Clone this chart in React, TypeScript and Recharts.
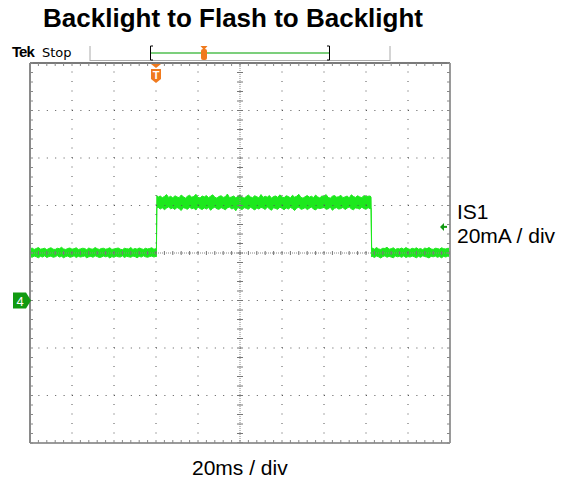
import React from 'react';
import {
  ComposedChart,
  Area,
  Scatter,
  XAxis,
  YAxis,
  ReferenceLine,
  ReferenceDot
} from 'recharts';

const timesBefore = [
  0, 1, 2, 3, 4, 5, 6, 7, 8, 9,
  10, 11, 12, 13, 14, 15, 16, 17, 18, 19,
  20, 21, 22, 23, 24, 25, 26, 27, 28, 29,
  30, 31, 32, 33, 34, 35, 36, 37, 38, 39,
  40, 41, 42, 43, 44, 45, 46, 47, 48, 49,
  50, 51, 52, 53, 54, 55, 56, 57, 58, 59,
  60, 60.2
];
const highBefore = [
  21.7, 22.1, 21.5, 21.9, 22.3, 21.6, 21.8, 22.0, 21.4, 21.9,
  22.2, 21.6, 21.5, 22.0, 21.8, 22.4, 21.7, 21.5, 21.9, 22.1,
  21.6, 21.8, 22.2, 21.5, 21.7, 22.0, 21.9, 21.4, 22.1, 21.7,
  21.6, 22.3, 21.8, 21.5, 21.9, 22.0, 21.6, 21.8, 22.2, 21.5,
  21.7, 21.9, 22.1, 21.6, 21.4, 22.0, 21.8, 21.7, 22.3, 21.5,
  21.9, 21.6, 22.1, 21.8, 21.5, 22.0, 21.7, 21.9, 22.2, 21.6,
  21.8, 21.7
];
const lowBefore = [
  18.5, 18.2, 18.7, 18.4, 18.0, 18.6, 18.3, 18.8, 18.1, 18.5,
  18.7, 18.2, 18.4, 18.9, 18.3, 18.6, 18.0, 18.5, 18.7, 18.2,
  18.4, 18.8, 18.1, 18.6, 18.3, 18.5, 18.7, 18.0, 18.4, 18.6,
  18.2, 18.8, 18.5, 18.1, 18.3, 18.7, 18.4, 18.6, 17.9, 18.5,
  18.2, 18.7, 18.4, 18.3, 18.8, 18.1, 18.6, 18.4, 18.2, 18.7,
  18.5, 18.0, 18.6, 18.3, 18.8, 18.4, 18.2, 18.5, 18.7, 18.3,
  18.6, 18.4
];

const timesFlash = [
  60.4, 61, 62, 63, 64, 65, 66, 67, 68, 69,
  70, 71, 72, 73, 74, 75, 76, 77, 78, 79,
  80, 81, 82, 83, 84, 85, 86, 87, 88, 89,
  90, 91, 92, 93, 94, 95, 96, 97, 98, 99,
  100, 101, 102, 103, 104, 105, 106, 107, 108, 109,
  110, 111, 112, 113, 114, 115, 116, 117, 118, 119,
  120, 121, 122, 123, 124, 125, 126, 127, 128, 129,
  130, 131, 132, 133, 134, 135, 136, 137, 138, 139,
  140, 141, 142, 143, 144, 145, 146, 147, 148, 149,
  150, 151, 152, 153, 154, 155, 156, 157, 158, 159,
  160, 161, 162, 162.4
];
const highFlash = [
  44.2, 43.5, 44.0, 43.3, 43.8, 44.6, 43.4, 43.9, 43.2, 44.1,
  43.6, 43.3, 44.4, 43.7, 43.1, 43.9, 44.3, 43.5, 43.8, 44.7,
  43.4, 43.2, 44.0, 43.6, 44.2, 43.3, 43.9, 44.5, 43.5, 43.1,
  43.8, 44.1, 43.4, 43.7, 44.8, 43.3, 43.6, 44.0, 43.2, 43.9,
  44.3, 43.5, 43.1, 43.8, 44.4, 43.6, 43.3, 44.1, 43.7, 43.2,
  44.6, 43.4, 43.9, 43.5, 44.2, 43.1, 43.8, 44.0, 43.4, 44.5,
  43.6, 43.3, 44.1, 43.8, 43.2, 44.3, 43.5, 43.9, 44.7, 43.4,
  43.1, 43.7, 44.2, 43.5, 43.9, 43.3, 44.4, 43.6, 43.2, 44.0,
  43.8, 44.6, 43.4, 43.1, 43.9, 44.2, 43.5, 43.7, 44.3, 43.3,
  43.6, 44.0, 43.2, 44.5, 43.8, 43.4, 44.1, 43.6, 43.3, 44.2,
  43.7, 43.9, 44.0, 43.5
];
const lowFlash = [
  38.8, 39.3, 38.5, 39.1, 38.2, 38.9, 39.4, 38.6, 39.0, 38.3,
  39.2, 38.7, 37.9, 39.1, 38.8, 38.4, 39.3, 38.6, 38.9, 38.1,
  39.4, 38.7, 38.3, 39.0, 38.5, 39.2, 38.0, 38.8, 39.3, 38.6,
  38.4, 39.1, 38.7, 38.2, 39.0, 39.4, 38.5, 38.9, 37.8, 39.2,
  38.6, 38.3, 39.1, 38.8, 38.4, 39.3, 38.7, 38.1, 39.0, 38.5,
  39.2, 38.9, 38.3, 39.4, 38.6, 38.0, 39.1, 38.7, 38.4, 39.3,
  38.8, 38.2, 39.0, 38.5, 39.2, 38.7, 37.9, 38.9, 39.3, 38.4,
  38.6, 39.1, 38.3, 38.8, 39.4, 38.5, 38.1, 39.0, 38.7, 38.9,
  39.2, 38.4, 38.6, 39.3, 38.0, 38.8, 39.1, 38.5, 38.7, 39.2,
  38.3, 38.9, 39.4, 38.6, 38.2, 39.0, 38.8, 38.5, 39.3, 38.7,
  38.4, 39.1, 38.6, 38.9
];

const timesAfter = [
  162.7, 163, 164, 165, 166, 167, 168, 169, 170, 171,
  172, 173, 174, 175, 176, 177, 178, 179, 180, 181,
  182, 183, 184, 185, 186, 187, 188, 189, 190, 191,
  192, 193, 194, 195, 196, 197, 198, 199, 200
];
const highAfter = [
  21.8, 22.1, 21.6, 22.3, 21.7, 21.5, 22.0, 21.9, 22.4, 21.6,
  21.8, 22.2, 21.5, 21.9, 21.7, 22.1, 21.6, 22.3, 21.8, 21.5,
  22.0, 21.7, 22.2, 21.6, 21.9, 21.4, 22.1, 21.8, 22.3, 21.7,
  21.5, 22.0, 21.9, 21.6, 22.2, 21.8, 21.7, 22.0, 21.9
];
const lowAfter = [
  18.3, 18.6, 18.1, 18.7, 18.4, 17.9, 18.5, 18.8, 18.2, 18.6,
  18.3, 18.0, 18.7, 18.4, 18.6, 18.2, 18.8, 18.1, 18.5, 18.3,
  18.7, 18.4, 18.0, 18.6, 18.2, 18.8, 18.5, 18.3, 17.9, 18.6,
  18.4, 18.7, 18.2, 18.5, 18.0, 18.6, 18.3, 18.7, 18.4
];

// graticule: 20 ms/div, 20 mA/div, ground marker one division below centre
const gridTimes = [20, 40, 60, 80, 120, 140, 160, 180];
const gridLevels = [-40, -20, 0, 40, 60, 80];
const centerTime = 100;
const centerLevel = 20;
const triggerTime = 60;
const triggerLevel = 31;
const minorTimes = Array.from({ length: 51 }, (_, i) => i * 4);
const minorLevels = Array.from({ length: 41 }, (_, i) => -60 + i * 4);

const times = [...timesBefore, ...timesFlash, ...timesAfter];
const highs = [...highBefore, ...highFlash, ...highAfter];
const lows = [...lowBefore, ...lowFlash, ...lowAfter];
const trace = times.map((t, i) => ({ t, range: [lows[i], highs[i]] }));

const xTickMarks = minorTimes.map((t) => ({ t, v: centerLevel }));
const yTickMarks = minorLevels.map((v) => ({ t: centerTime, v }));

const GREEN = '#1de81d';
const ORANGE = '#f07a1e';
const FONT = '"Liberation Sans", Arial, sans-serif';

const VTick = (p: any) => (
  <line x1={p.cx} x2={p.cx} y1={p.cy - 2} y2={p.cy + 2} stroke="#777" strokeWidth={1} />
);
const HTick = (p: any) => (
  <line x1={p.cx - 3} x2={p.cx + 3} y1={p.cy} y2={p.cy} stroke="#777" strokeWidth={1} />
);

const TriggerMark = (p: any) => (
  <g>
    <path d={`M${p.cx - 5},${p.cy + 1} L${p.cx + 5},${p.cy + 1} L${p.cx},${p.cy + 5} Z`} fill={ORANGE} />
    <path
      d={`M${p.cx - 5},${p.cy + 6} L${p.cx + 5},${p.cy + 6} L${p.cx + 5},${p.cy + 16} L${p.cx},${p.cy + 20} L${p.cx - 5},${p.cy + 16} Z`}
      fill={ORANGE}
    />
    <text x={p.cx} y={p.cy + 16} textAnchor="middle" fill="#fff" fontSize={11} fontWeight="bold" fontFamily={FONT}>
      T
    </text>
  </g>
);

const GroundMark = (p: any) => (
  <g>
    <path
      d={`M${p.cx - 17},${p.cy - 8} L${p.cx - 4},${p.cy - 8} L${p.cx + 1},${p.cy} L${p.cx - 4},${p.cy + 8} L${p.cx - 17},${p.cy + 8} Z`}
      fill="#119a11"
    />
    <text x={p.cx - 10} y={p.cy + 5} textAnchor="middle" fill="#fff" fontSize={13} fontFamily={FONT}>
      4
    </text>
  </g>
);

const LevelArrow = (p: any) => (
  <g>
    <path d={`M${p.cx - 10},${p.cy} L${p.cx - 6},${p.cy - 4} L${p.cx - 6},${p.cy + 4} Z`} fill="#139a13" />
    <line x1={p.cx - 7} x2={p.cx - 3} y1={p.cy} y2={p.cy} stroke="#139a13" strokeWidth={2} />
  </g>
);

export default function App() {
  return (
    <div style={{ position: 'absolute', top: 0, left: 0, width: 584, height: 478, background: '#fff', fontFamily: FONT }}>
      <div
        style={{
          position: 'absolute',
          top: 2,
          left: 0,
          width: 466,
          textAlign: 'center',
          fontSize: 26,
          lineHeight: '32px',
          fontWeight: 'bold',
          color: '#000'
        }}
      >
        Backlight to Flash to Backlight
      </div>

      <svg width={584} height={70} style={{ position: 'absolute', top: 0, left: 0 }}>
        <text x={12} y={57} fontFamily={FONT} fontSize={15} fontWeight="bold" fill="#000" letterSpacing={-1}>
          Tek
        </text>
        <text x={42} y={57} fontFamily='"DejaVu Sans", sans-serif' fontSize={13} fill="#000">
          Stop
        </text>
        <line x1={90} x2={90} y1={46} y2={61} stroke="#aaa" />
        <line x1={90} x2={390} y1={60.5} y2={60.5} stroke="#aaa" />
        <line x1={390} x2={390} y1={46} y2={61} stroke="#aaa" />
        <line x1={151} x2={330} y1={53} y2={53} stroke="#7ccf7c" strokeWidth={2} />
        <path d="M153,46 L150.5,46 L150.5,60 L153,60" fill="none" stroke="#000" />
        <path d="M327,46 L329.5,46 L329.5,60 L327,60" fill="none" stroke="#000" />
        <path d="M200.5,46 L207.5,46 L204,50 Z" fill={ORANGE} />
        <rect x={201} y={49} width={6} height={11} rx={2} fill={ORANGE} />
      </svg>

      <div style={{ position: 'absolute', top: 0, left: 0 }}>
        <ComposedChart width={584} height={478} data={trace} margin={{ top: 63, right: 134, bottom: 35, left: 30 }}>
          <XAxis
            xAxisId="b"
            dataKey="t"
            type="number"
            domain={[0, 200]}
            ticks={minorTimes}
            tickFormatter={() => ''}
            tickSize={3}
            mirror
            allowDataOverflow
            axisLine={{ stroke: '#9a9a9a', strokeWidth: 2 }}
            tickLine={{ stroke: '#888' }}
          />
          <XAxis
            xAxisId="t"
            dataKey="t"
            orientation="top"
            type="number"
            domain={[0, 200]}
            ticks={minorTimes}
            tickFormatter={() => ''}
            tickSize={3}
            mirror
            allowDataOverflow
            axisLine={{ stroke: '#7a7a7a', strokeWidth: 2 }}
            tickLine={{ stroke: '#888' }}
          />
          <YAxis
            yAxisId="l"
            type="number"
            domain={[-60, 100]}
            ticks={minorLevels}
            tickFormatter={() => ''}
            tickSize={3}
            mirror
            allowDataOverflow
            axisLine={{ stroke: '#8a8a8a', strokeWidth: 2 }}
            tickLine={{ stroke: '#888' }}
          />
          <YAxis
            yAxisId="r"
            orientation="right"
            type="number"
            domain={[-60, 100]}
            ticks={minorLevels}
            tickFormatter={() => ''}
            tickSize={3}
            mirror
            allowDataOverflow
            axisLine={{ stroke: '#9a9a9a', strokeWidth: 2 }}
            tickLine={{ stroke: '#888' }}
          />

          {gridTimes.map((t) => (
            <ReferenceLine key={`gx${t}`} xAxisId="b" yAxisId="l" x={t} stroke="#555" strokeDasharray="1 8.5" />
          ))}
          {gridLevels.map((v) => (
            <ReferenceLine key={`gy${v}`} xAxisId="b" yAxisId="l" y={v} stroke="#555" strokeDasharray="1 7.4" />
          ))}
          <ReferenceLine xAxisId="b" yAxisId="l" x={centerTime} stroke="#888" strokeDasharray="1 1" />
          <ReferenceLine xAxisId="b" yAxisId="l" y={centerLevel} stroke="#888" strokeDasharray="1 1" />
          <Scatter xAxisId="b" yAxisId="l" data={xTickMarks} dataKey="v" shape={VTick} isAnimationActive={false} />
          <Scatter xAxisId="b" yAxisId="l" data={yTickMarks} dataKey="v" shape={HTick} isAnimationActive={false} />

          <Area
            xAxisId="b"
            yAxisId="l"
            dataKey="range"
            type="linear"
            stroke={GREEN}
            strokeWidth={1}
            fill={GREEN}
            fillOpacity={1}
            dot={false}
            activeDot={false}
            isAnimationActive={false}
          />

          <ReferenceDot xAxisId="b" yAxisId="l" x={triggerTime} y={100} r={0} shape={TriggerMark} ifOverflow="visible" />
          <ReferenceDot xAxisId="b" yAxisId="l" x={0} y={0} r={0} shape={GroundMark} ifOverflow="visible" />
          <ReferenceDot xAxisId="b" yAxisId="l" x={200} y={triggerLevel} r={0} shape={LevelArrow} ifOverflow="visible" />
        </ComposedChart>
      </div>

      <div style={{ position: 'absolute', left: 457, top: 200, fontSize: 21, lineHeight: '24px', color: '#000' }}>
        IS1
        <br />
        20mA / div
      </div>
      <div style={{ position: 'absolute', left: 192, top: 456, fontSize: 21, lineHeight: '24px', color: '#000' }}>
        20ms / div
      </div>
    </div>
  );
}
